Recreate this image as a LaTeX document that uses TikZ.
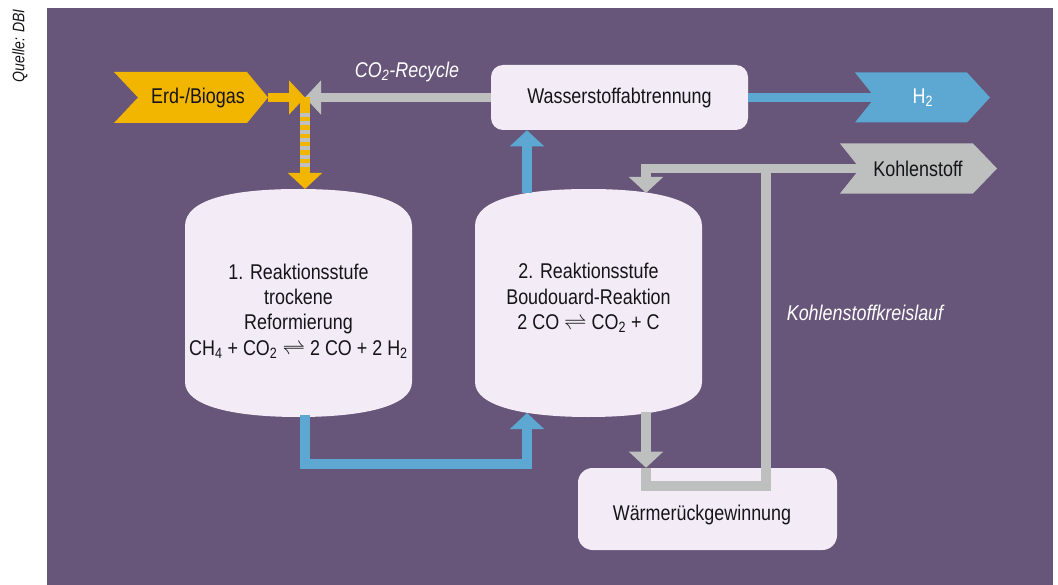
\documentclass[tikz,border=0pt]{standalone}
\usepackage{fontspec}
\setmainfont{Liberation Sans}[FakeStretch=0.84]
\usetikzlibrary{arrows.meta}
\definecolor{bgpurple}{RGB}{103,86,121}
\definecolor{lav}{RGB}{243,236,246}
\definecolor{ygold}{RGB}{243,182,0}
\definecolor{bluec}{RGB}{92,168,210}
\definecolor{greyc}{RGB}{190,192,191}
\definecolor{txt}{RGB}{22,20,24}
\begin{document}
\begin{tikzpicture}[x=0.75pt,y=-0.75pt,
  lbl/.style={font=\fontsize{16}{19}\selectfont, text=txt, inner sep=0pt, align=center},
  ital/.style={font=\fontsize{16}{19}\selectfont\itshape, text=white, inner sep=0pt},
  box/.style={fill=lav, draw=none, lbl},
  flow/.style={line width=7pt},
  arr/.style={-{Triangle[width=25pt,length=12pt]}},
  reactor/.style={fill=lav}]
\useasboundingbox (0,0) rectangle (1058,585);
\fill[bgpurple] (47,8) rectangle (1053,585);
\node[rotate=90, font=\fontsize{12.5}{14}\selectfont\itshape, text=txt, inner sep=0pt] (src) at (20,46) {Quelle: DBI};

% reactors
\begin{scope}[shift={(298.5,0)}]
\fill[reactor] (-113.5,382) -- (-113.5,226) .. controls (-113.5,198) and (-62,189) .. (0,189)
  .. controls (62,189) and (113.5,198) .. (113.5,226) -- (113.5,382)
  .. controls (113.5,407) and (62,417) .. (0,417) .. controls (-62,417) and (-113.5,407) .. (-113.5,382) -- cycle;
\end{scope}
\begin{scope}[shift={(588.5,0)}]
\fill[reactor] (-113.5,382) -- (-113.5,226) .. controls (-113.5,198) and (-62,189) .. (0,189)
  .. controls (62,189) and (113.5,198) .. (113.5,226) -- (113.5,382)
  .. controls (113.5,407) and (62,417) .. (0,417) .. controls (-62,417) and (-113.5,407) .. (-113.5,382) -- cycle;
\end{scope}
\node[lbl] (r1) at (298.5,311) {1. Reaktionsstufe\\trockene\\Reformierung\\CH\textsubscript{4} + CO\textsubscript{2} $\rightleftharpoons$ 2 CO + 2 H\textsubscript{2}};
\node[lbl] (r2) at (588.5,298) {2. Reaktionsstufe\\Boudouard-Reaktion\\2 CO $\rightleftharpoons$ CO\textsubscript{2} + C};

% boxes
\node[box, minimum width=192.75pt, minimum height=48.75pt, rounded corners=9pt] (wst) at (619.5,97.5) {Wasserstoffabtrennung};
\node[box, minimum width=194.25pt, minimum height=61.5pt, rounded corners=11pt] (wrg) at (707.5,509) {};
\node[lbl] (wrgt) at (702,515) {Wärmerückgewinnung};

% coordinates
\coordinate (erdtip) at (268,97.5);
\coordinate (mix) at (305,97.5);
\coordinate (r1top) at (305,189);
\coordinate (r1bot) at (305,415);
\coordinate (r2bot) at (527,413);
\coordinate (r2top) at (527,193);
\coordinate (h2notch) at (875,97.5);
\coordinate (r2botc) at (646,412);
\coordinate (loopA) at (646,486);
\coordinate (loopB) at (766,486);
\coordinate (loopC) at (766,168.5);
\coordinate (loopD) at (646,168.5);
\coordinate (r2topc) at (646,193);
\coordinate (kohnotch) at (860,168.5);

% connectors
\draw[flow, ygold, arr] (erdtip) -- (mix);
\draw[flow, greyc, arr] (wst.west) -- (mix);
\draw[flow, ygold, arr] (mix) -- (r1top);
\draw[flow, greyc, dash pattern=on 3pt off 3.25pt] (305,113) -- (305,170);
\draw[flow, bluec, arr] (r1bot) -- (r1bot |- 0,464) -- (r2bot |- 0,464) -- (r2bot);
\draw[flow, bluec, arr] (r2top) -- (r2top |- wst.south);
\draw[flow, bluec] (wst.east) -- (h2notch);
\draw[flow, greyc, arr] (r2botc) -- (r2botc |- wrg.north);
\draw[flow, greyc] (r2botc |- wrg.north) -- (loopA) -- (loopB) -- (loopC);
\draw[flow, greyc, arr] (kohnotch) -- (loopD) -- (r2topc);

% chevrons
\fill[ygold] (114,72) -- (247,72) -- (268,97.5) -- (247,123) -- (114,123) -- (138,97.5) -- cycle;
\node[lbl] (erd) at (198,97.5) {Erd-/Biogas};
\fill[bluec] (855,72.5) -- (967,72.5) -- (990,97.5) -- (967,122.5) -- (855,122.5) -- (875,97.5) -- cycle;
\node[lbl, text=white] (h2) at (923,97.5) {H\textsubscript{2}};
\fill[greyc] (840,143.5) -- (973,143.5) -- (997,168.5) -- (973,193.5) -- (840,193.5) -- (860,168.5) -- cycle;
\node[lbl] (koh) at (918,168.5) {Kohlenstoff};

% italic labels
\node[ital] (co2) at (407,72) {CO\textsubscript{2}-Recycle};
\node[ital] (kreis) at (865,313) {Kohlenstoffkreislauf};
\end{tikzpicture}
\end{document}
